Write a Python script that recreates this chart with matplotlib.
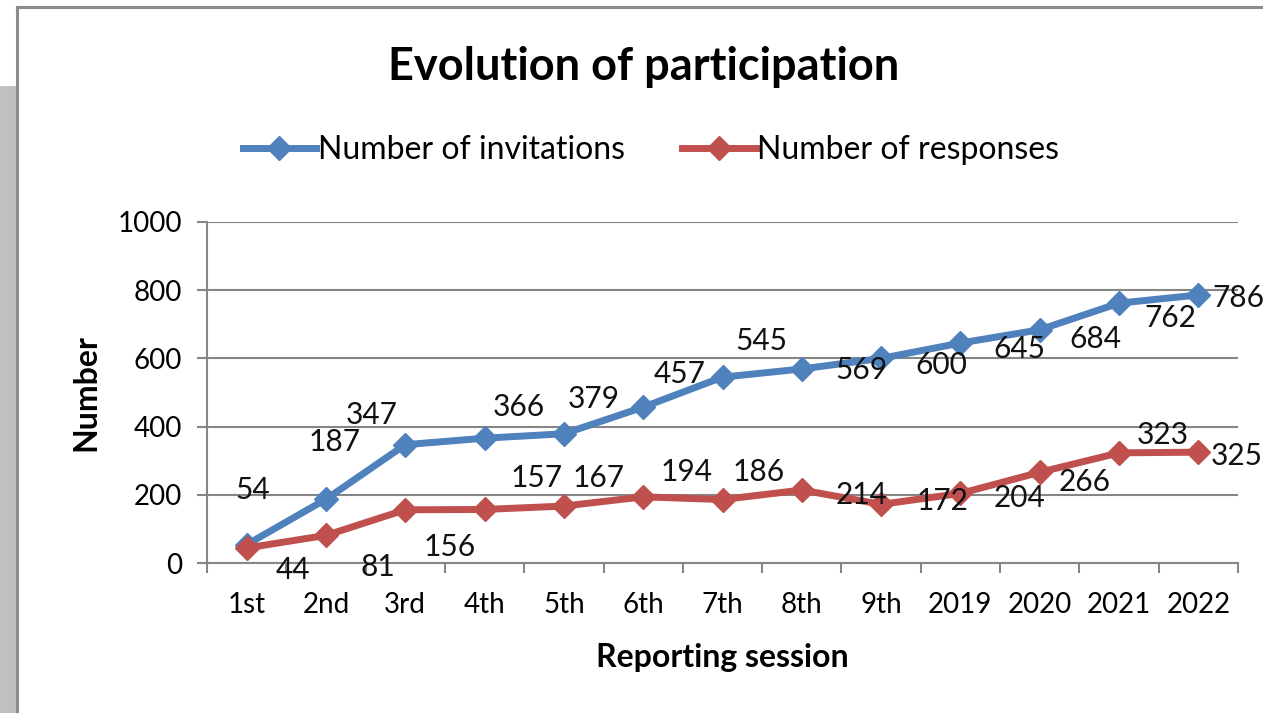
import matplotlib.pyplot as plt
from matplotlib.lines import Line2D
from matplotlib.patches import Rectangle

# 데이터
sessions = ['1st', '2nd', '3rd', '4th', '5th', '6th', '7th', '8th', '9th',
            '2019', '2020', '2021', '2022']
invitations = [54, 187, 347, 366, 379, 457, 545, 569, 600, 645, 684, 762, 786]
responses = [44, 81, 156, 157, 167, 194, 186, 214, 172, 204, 266, 323, 325]

# 데이터 레이블 위치 (픽셀 오프셋)
inv_offsets = [(6, 55), (9, 57), (-34, 30), (34, 31), (30, 35), (36, 33), (39, 36),
               (60, -1), (60, -7), (59, -6), (56, -9), (51, -15), (40, -3)]
resp_offsets = [(46, -22), (52, -32), (44, -37), (52, 31), (35, 28), (43, 25), (36, 28),
                (60, -5), (61, 3), (59, -5), (45, -10), (44, 18), (38, -4)]

blue = '#4F81BD'
red = '#C0504D'
grey = '#868686'

plt.rcParams['font.family'] = ['Lato', 'DejaVu Sans']

fig = plt.figure(figsize=(12.63, 7.13), dpi=100)

# 배경 장식 (회색 띠, 차트 테두리)
fig.add_artist(Rectangle((0, 0), 16 / 1263, 1 - 86 / 713, transform=fig.transFigure,
                         facecolor='#c0c0c0', edgecolor='none'))
fig.add_artist(Line2D([17 / 1263, 17 / 1263], [0, 1 - 7 / 713], transform=fig.transFigure,
                      color='#8c8c8c', lw=2.2))
fig.add_artist(Line2D([17 / 1263, 1], [1 - 7 / 713, 1 - 7 / 713], transform=fig.transFigure,
                      color='#8c8c8c', lw=2.2))

ax = fig.add_axes([207 / 1263, 1 - 563 / 713, (1238 - 207) / 1263, (563 - 222) / 713])

x = range(len(sessions))
ax.plot(x, invitations, color=blue, lw=5, marker='D', markersize=12.5, zorder=3,
        label='Number of invitations')
ax.plot(x, responses, color=red, lw=5, marker='D', markersize=12.5, zorder=3,
        label='Number of responses')

for i, v in enumerate(invitations):
    ax.annotate(str(v), (i, v), xytext=inv_offsets[i], textcoords='offset pixels',
                ha='center', va='center', fontsize=21.5, color='#111111', zorder=5,
                annotation_clip=False)
for i, v in enumerate(responses):
    ax.annotate(str(v), (i, v), xytext=resp_offsets[i], textcoords='offset pixels',
                ha='center', va='center', fontsize=21.5, color='#111111', zorder=5,
                annotation_clip=False)

ax.set_xlim(-0.5, len(sessions) - 0.5)
ax.set_ylim(0, 1000)
ax.set_yticks(range(0, 1001, 200))
ax.set_xticks(list(x))
ax.set_xticklabels(sessions)
ax.set_xticks([i - 0.5 for i in range(len(sessions) + 1)], minor=True)

ax.grid(axis='y', color=grey, lw=1.5)
ax.set_axisbelow(True)
for s in ['top', 'right']:
    ax.spines[s].set_visible(False)
for s in ['left', 'bottom']:
    ax.spines[s].set_color(grey)
    ax.spines[s].set_linewidth(1.5)

ax.tick_params(axis='y', length=7, width=1.5, color=grey, pad=11, labelsize=20)
ax.tick_params(axis='x', which='major', length=0, pad=21, labelsize=20)
ax.tick_params(axis='x', which='minor', length=7, width=1.5, color=grey)

ax.set_xlabel('Reporting session', fontsize=23, fontweight='bold', labelpad=18)
ax.set_ylabel('Number', fontsize=23, fontweight='bold', labelpad=12)

fig.text(644 / 1263, 1 - 67 / 713, 'Evolution of participation', ha='center', va='center',
         fontsize=32.5, fontweight='bold')

fig.legend(loc='center', bbox_to_anchor=(651 / 1263, 1 - 150 / 713), ncol=2, frameon=False,
           fontsize=23, handlelength=2.3, handletextpad=0.05, columnspacing=1.8)

fig.savefig('out.png', dpi=100)
